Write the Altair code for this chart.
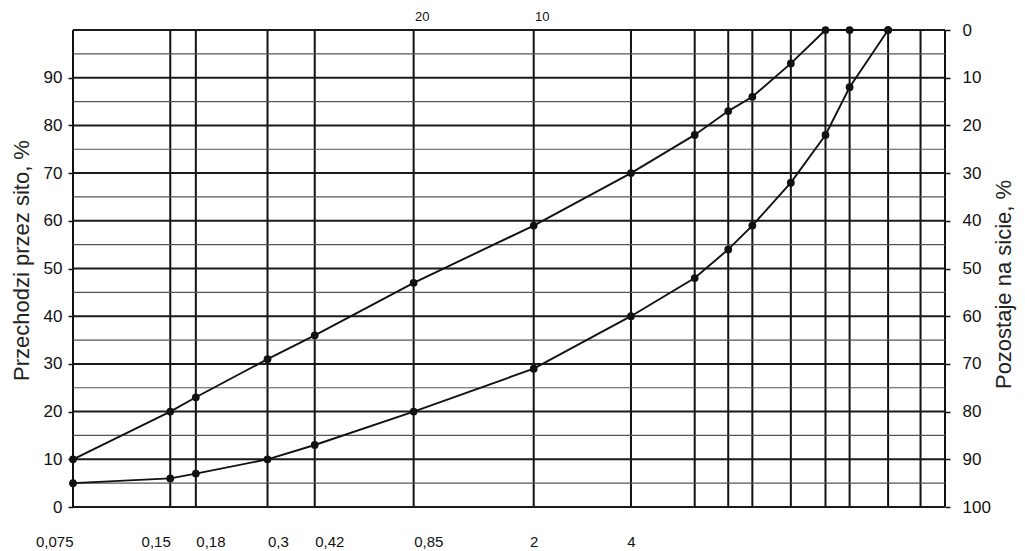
import altair as alt
import pandas as pd

# Sieve openings (mm) drawn as vertical grid lines
sieves = [0.075, 0.15, 0.18, 0.3, 0.42, 0.85, 2, 4, 6.3, 8, 9.5, 12.5, 16, 19, 25, 31.5, 37.5]
# Bottom axis labels
bottom_ticks = [0.075, 0.15, 0.18, 0.3, 0.42, 0.85, 2, 4]
bottom_labels = ["0,075", "0,15", "0,18", "0,3", "0,42", "0,85", "2", "4"]
# Top axis labels (sieve numbers)
top_ticks = [0.85, 2]
top_labels = ["20", "10"]
# Grading curves (% passing)
curve_sizes = [0.075, 0.15, 0.18, 0.3, 0.42, 0.85, 2, 4, 6.3, 8, 9.5, 12.5, 16, 19, 25]
upper = [10, 20, 23, 31, 36, 47, 59, 70, 78, 83, 86, 93, 100, 100, 100]
lower = [5, 6, 7, 10, 13, 20, 29, 40, 48, 54, 59, 68, 78, 88, 100]
# Horizontal grid
major_y = [0, 10, 20, 30, 40, 50, 60, 70, 80, 90, 100]
minor_y = [5, 15, 25, 35, 45, 55, 65, 75, 85, 95]
left_ticks = [0, 10, 20, 30, 40, 50, 60, 70, 80, 90]
right_ticks = [0, 10, 20, 30, 40, 50, 60, 70, 80, 90, 100]

FONT = "Liberation Sans"
INK = "#111111"


def label_map_expr(ticks, labels):
    expr = "''"
    for t, l in reversed(list(zip(ticks, labels))):
        expr = f"(abs(datum.value - {t}) < 1e-6 ? '{l}' : {expr})"
    return expr


curves = pd.DataFrame(
    {
        "size": curve_sizes * 2,
        "pct": upper + lower,
        "series": ["upper"] * len(upper) + ["lower"] * len(lower),
    }
)

x_scale = alt.Scale(type="log", domain=[0.075, 37.5], nice=False)
y_scale = alt.Scale(domain=[0, 100], nice=False, zero=False)

vgrid = (
    alt.Chart(pd.DataFrame({"size": sieves}))
    .mark_rule(color=INK, strokeWidth=2)
    .encode(
        x=alt.X(
            "size:Q",
            scale=x_scale,
            axis=alt.Axis(
                orient="bottom",
                values=bottom_ticks,
                labelExpr=label_map_expr(bottom_ticks, bottom_labels),
                ticks=False,
                domain=False,
                grid=False,
                title=None,
                labelPadding=27,
                labelFontSize=15,
                labelFont=FONT,
                labelColor=INK,
                labelOverlap=False,
                labelFlush=False,
                labelBound=False,
                labelAlign={
                    "condition": [
                        {"test": "datum.value <= 0.15", "value": "right"},
                        {"test": "datum.value <= 0.85", "value": "left"},
                    ],
                    "value": "center",
                },
            ),
        )
    )
)

hmajor = (
    alt.Chart(pd.DataFrame({"pct": major_y}))
    .mark_rule(color="#1a1a1a", strokeWidth=2)
    .encode(
        y=alt.Y(
            "pct:Q",
            scale=y_scale,
            axis=alt.Axis(
                orient="left",
                values=left_ticks,
                title="Przechodzi przez sito, %",
                titleFont=FONT,
                titleFontSize=22,
                titleFontWeight="normal",
                titleColor="#222222",
                titleBaseline="middle",
                titleX=-52,
                titleY=230,
                titleAngle=270,
                domain=False,
                grid=False,
                tickSize=5,
                tickColor=INK,
                tickWidth=1.5,
                labelPadding=6,
                labelFontSize=17,
                labelFont=FONT,
                labelColor=INK,
            ),
        )
    )
)

hminor = (
    alt.Chart(pd.DataFrame({"pct": minor_y}))
    .mark_rule(color="#555555", strokeWidth=1.2)
    .encode(y=alt.Y("pct:Q", scale=y_scale, axis=None))
)

lines = (
    alt.Chart(curves)
    .mark_line(color=INK, strokeWidth=1.9)
    .encode(
        x=alt.X(
            "size:Q",
            scale=x_scale,
            axis=alt.Axis(
                orient="top",
                values=top_ticks,
                labelExpr=label_map_expr(top_ticks, top_labels),
                ticks=False,
                domain=False,
                grid=False,
                title=None,
                labelPadding=7,
                labelFontSize=13,
                labelFont=FONT,
                labelColor=INK,
                labelOffset=8,
            ),
        ),
        y=alt.Y(
            "pct:Q",
            scale=y_scale,
            axis=alt.Axis(
                orient="right",
                values=right_ticks,
                labelExpr="100 - datum.value",
                title="Pozostaje na sicie, %",
                titleFont=FONT,
                titleFontSize=22,
                titleFontWeight="normal",
                titleColor="#222222",
                titleBaseline="middle",
                titleAngle=270,
                titleX=58,
                titleY=254,
                domain=False,
                grid=False,
                tickSize=5,
                tickColor=INK,
                tickWidth=1.5,
                labelPadding=12,
                labelFontSize=17,
                labelFont=FONT,
                labelColor=INK,
            ),
        ),
        detail="series:N",
    )
)

points = (
    alt.Chart(curves)
    .mark_circle(color=INK, size=60, opacity=1)
    .encode(
        x=alt.X("size:Q", scale=x_scale, axis=None),
        y=alt.Y("pct:Q", scale=y_scale, axis=None),
        detail="series:N",
    )
)

chart = (
    alt.layer(vgrid, hminor, hmajor, lines, points)
    .resolve_axis(x="independent", y="independent")
    .properties(
        width=872,
        height=477,
        padding={"left": 65, "top": 22, "right": 72, "bottom": 44},
        autosize=alt.AutoSizeParams(type="none"),
        background="white",
    )
    .configure_view(stroke=None)
)

chart.save("out.html", embed_options={"renderer": "svg", "actions": False})
